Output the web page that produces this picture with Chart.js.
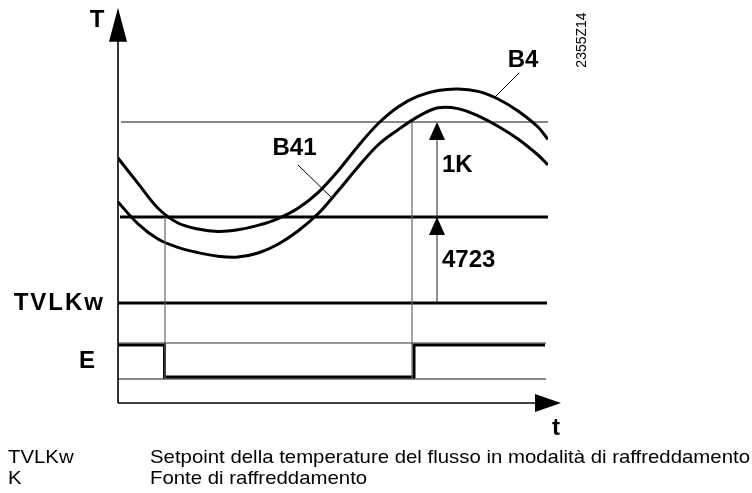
<!DOCTYPE html>
<html>
<head>
<meta charset="utf-8">
<script src="https://cdn.jsdelivr.net/npm/chart.js@4.4.0/dist/chart.umd.min.js"></script>
<style>
  html, body { margin: 0; padding: 0; background: #fff; }
</style>
</head>
<body>
<canvas id="diagram" width="752" height="493"></canvas>
<script>
// time runs 0..86, temperature 0..98 (arbitrary units)
var sampleTime = [0, 4, 8, 12, 16, 20, 24, 28, 32, 36, 40, 44, 48, 52, 56, 60, 64, 68, 72, 76, 80, 84, 86];
var b4Temp  = [61.25, 54.9, 48.7, 45.0, 43.5, 42.9, 43.3, 44.4, 46.1, 48.7, 52.6, 58.0, 64.2, 69.8, 74.0, 76.7, 78.1, 78.5, 77.9, 76.0, 73.0, 69.0, 65.9];
var b41Temp = [50.25, 44.8, 41.0, 38.9, 37.6, 36.7, 36.5, 37.5, 39.7, 43.0, 47.3, 53.0, 59.0, 64.5, 68.3, 71.6, 73.8, 73.6, 71.8, 69.2, 66.0, 62.0, 59.5];

// setpoint levels
var levelTVLKw = 25;
var level4723  = 46.5;   // TVLKw + 4723
var level1K    = 70.25;  // + 1K

// cooling source E: switch times and state (1 = on)
var eTime  = [0, 9.3, 59.2, 85.4];
var eState = [1, 0, 1, 1];
var eLow = 6.5, eHigh = 14.5;
var eBandLow = 6, eBandHigh = 15;

// moments where the curves cross the thresholds
var switchOff = 9.4;
var switchOn  = 58.8;
var dimTime   = 63.8;

// leader lines for the curve names
var b41Leader = { x: [36, 42.8], y: [59.5, 51.25] };
var b4Leader  = { x: [80.2, 75.4], y: [82.5, 76.5] };

var legendTerms = ['TVLKw', 'K'];
var legendTexts = ['Setpoint della temperature del flusso in modalità di raffreddamento', 'Fonte di raffreddamento'];

function pts(xs, ys) {
    return xs.map(function (v, i) { return { x: v, y: ys[i] }; });
}

function seg(x1, y1, x2, y2) {
    return [{ x: x1, y: y1 }, { x: x2, y: y2 }];
}

function lineSet(data, width, color, extra) {
    var ds = {
        data: data,
        showLine: true,
        borderColor: color,
        borderWidth: width,
        pointRadius: 0,
        tension: 0,
        fill: false
    };
    return Object.assign(ds, extra || {});
}

function arrowHead(ctx, tx, ty, dx, dy, len, half) {
    // dx,dy: unit direction the arrow points to
    var bx = tx - dx * len, by = ty - dy * len;
    ctx.beginPath();
    ctx.moveTo(tx, ty);
    ctx.lineTo(bx - dy * half, by + dx * half);
    ctx.lineTo(bx + dy * half, by - dx * half);
    ctx.closePath();
    ctx.fill();
}

var boldFont = 'bold 24px "Liberation Sans", Arial, sans-serif';

var diagramExtras = {
    id: 'diagramExtras',
    afterDatasetsDraw: function (chart) {
        var ctx = chart.ctx;
        var sx = chart.scales.x, sy = chart.scales.y;
        var px = function (v) { return sx.getPixelForValue(v); };
        var py = function (v) { return sy.getPixelForValue(v); };

        ctx.save();
        ctx.fillStyle = '#000';
        ctx.strokeStyle = '#000';

        // axes with arrows
        ctx.lineWidth = 1.6;
        ctx.beginPath();
        ctx.moveTo(px(0), py(0));
        ctx.lineTo(px(0), py(96));
        ctx.moveTo(px(0), py(0));
        ctx.lineTo(px(84), py(0));
        ctx.stroke();
        arrowHead(ctx, px(0), py(98.8), 0, -1, 34, 9);
        arrowHead(ctx, px(88.6), py(0), 1, 0, 26, 9);

        // dimension arrows
        arrowHead(ctx, px(dimTime), py(level1K), 0, -1, 18, 8);
        arrowHead(ctx, px(dimTime), py(level4723), 0, -1, 18, 8);

        // labels
        ctx.font = boldFont;
        ctx.textBaseline = 'middle';
        ctx.textAlign = 'center';
        ctx.fillText('T', px(0) - 21, 20);
        ctx.fillText('t', px(87.6), py(0) + 25);
        ctx.fillText('B41', px(35.3), py(63.6));
        ctx.fillText('B4', px(81), py(85.75));

        ctx.textAlign = 'left';
        ctx.fillText('1K', px(dimTime + 1), py(59.5));
        ctx.fillText('4723', px(dimTime + 1), py(35.75));

        ctx.textAlign = 'right';
        ctx.letterSpacing = '2px';
        ctx.fillText('TVLKw', px(0) - 13, py(levelTVLKw));
        ctx.letterSpacing = '0px';
        ctx.fillText('E', px(0) - 23, py((eBandLow + eBandHigh) / 2));

        // drawing number, rotated
        ctx.save();
        ctx.translate(582, 40);
        ctx.rotate(-Math.PI / 2);
        ctx.textAlign = 'center';
        ctx.font = '14px "Liberation Sans", Arial, sans-serif';
        ctx.fillText('2355Z14', 0, 0);
        ctx.restore();

        // legend below the diagram, narrow lettering
        ctx.font = '19px "Liberation Sans", Arial, sans-serif';
        ctx.textAlign = 'left';
        ctx.textBaseline = 'alphabetic';
        var k = 600 / ctx.measureText(legendTexts[0]).width;
        legendTerms.forEach(function (term, i) {
            var base = 463 + i * 21;
            ctx.save();
            ctx.translate(8, base);
            ctx.scale(k, 1);
            ctx.fillText(term, 0, 0);
            ctx.restore();
            ctx.save();
            ctx.translate(150, base);
            ctx.scale(k, 1);
            ctx.fillText(legendTexts[i], 0, 0);
            ctx.restore();
        });

        ctx.restore();
    }
};

var eData = eTime.map(function (t, i) {
    return { x: t, y: eLow + eState[i] * (eHigh - eLow) };
});

new Chart(document.getElementById('diagram'), {
    type: 'scatter',
    data: {
        datasets: [
            // thin reference lines
            lineSet(seg(0.6, level1K, 86, level1K), 1, '#111'),
            lineSet(seg(0, eBandHigh, 85.6, eBandHigh), 1, '#333'),
            lineSet(seg(0, eBandLow, 85.6, eBandLow), 1, '#111'),
            lineSet(seg(switchOff, eBandLow, switchOff, level4723), 1.2, '#666'),
            lineSet(seg(switchOn, eBandLow, switchOn, level1K), 1.2, '#666'),
            lineSet(seg(dimTime, levelTVLKw, dimTime, level1K - 3), 1.1, '#333'),
            // thick setpoint lines
            lineSet(seg(0.4, level4723, 86, level4723), 3, '#000'),
            lineSet(seg(0, levelTVLKw, 85.8, levelTVLKw), 3, '#000'),
            // cooling source signal
            lineSet(eData, 3, '#000', { stepped: 'before' }),
            // temperature curves
            lineSet(pts(sampleTime, b4Temp), 3, '#000', { tension: 0.35 }),
            lineSet(pts(sampleTime, b41Temp), 3, '#000', { tension: 0.35 }),
            // leaders
            lineSet(pts(b41Leader.x, b41Leader.y), 1, '#000'),
            lineSet(pts(b4Leader.x, b4Leader.y), 1, '#000')
        ]
    },
    options: {
        responsive: false,
        animation: false,
        devicePixelRatio: 1,
        layout: { padding: { left: 118, right: 204, top: 11, bottom: 90 } },
        scales: {
            x: { type: 'linear', min: 0, max: 86, display: false },
            y: { type: 'linear', min: 0, max: 98, display: false }
        },
        plugins: {
            legend: { display: false },
            tooltip: { enabled: false }
        }
    },
    plugins: [diagramExtras]
});
</script>
</body>
</html>
